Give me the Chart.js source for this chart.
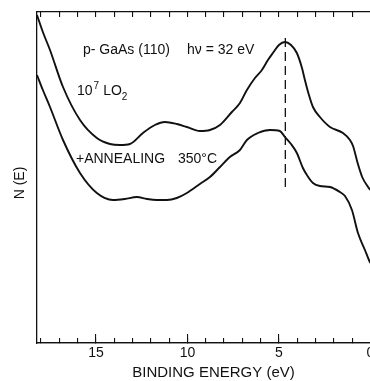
<!DOCTYPE html>
<html>
<head>
<meta charset="utf-8">
<script src="https://cdn.jsdelivr.net/npm/chart.js@4.4.1/dist/chart.umd.min.js"></script>
<style>
    html, body { margin: 0; padding: 0; background: #fff; overflow: hidden; }
</style>
</head>
<body>
<canvas id="espectro" width="390" height="381"></canvas>
<script>
// energias de ligadura (eV) y N(E) en unidades arbitrarias
const energiaOxidada = [18.22, 17.90, 17.51, 16.80, 15.87, 14.95, 14.23, 13.69, 13.14, 12.43, 11.78, 11.23, 10.58, 10.03, 9.32, 8.77, 8.22, 7.57, 7.13, 6.75, 6.31, 5.93, 5.60, 5.33, 5.00, 4.67, 4.34, 4.02, 3.74, 3.58, 3.36, 3.14, 2.76, 2.21, 1.50, 1.12, 0.95, 0.70, 0.45, 0.13, 0.0];
const nOxidada = [328, 311, 293, 256, 223, 205, 199, 198, 199, 210, 218, 221, 219, 216, 212, 213, 218, 231, 240, 253, 265, 273, 283, 290, 298, 301, 298, 290, 275, 263, 248, 236, 226, 216, 210, 203, 197, 180, 166, 156, 153];

const energiaRecocida = [18.22, 17.90, 17.51, 16.80, 15.87, 14.95, 14.07, 13.42, 12.76, 12.21, 11.67, 11.12, 10.58, 10.03, 9.32, 8.77, 8.22, 7.68, 7.13, 6.75, 6.15, 5.49, 4.95, 4.67, 4.34, 4.02, 3.69, 3.47, 3.14, 2.76, 2.21, 1.67, 1.39, 1.01, 0.68, 0.30, 0.08, 0.0];
const nRecocida = [268, 253, 236, 203, 170, 150, 143, 144, 146, 144, 143, 143, 145, 150, 159, 166, 176, 186, 193, 203, 210, 213, 212, 206, 199, 190, 175, 168, 160, 157, 156, 151, 147, 133, 110, 93, 83, 80];

// linea de trazos en el pico
const energiaPico = [4.65, 4.65];
const nPico = [156, 310];

const ticksMayores = [0, 5, 10, 15];
const ticksMenores = [0, 1, 2, 3, 4, 5, 6, 7, 8, 9, 10, 11, 12, 13, 14, 15, 16, 17, 18];
const rangoEnergia = [-1.07, 18.22];
const rangoN = [0, 331];

const fuente = '"Liberation Sans", Arial, sans-serif';
const negro = '#111';

const aPuntos = (xs, ys) => xs.map((x, i) => ({ x, y: ys[i] }));

const ejeX = (extra) => Object.assign({
    type: 'linear',
    reverse: true,
    min: rangoEnergia[0],
    max: rangoEnergia[1],
    ticks: { display: false },
    border: { display: true, color: negro, width: 1.3 },
    grid: { drawOnChartArea: false, drawTicks: true, tickLength: -5, color: negro, lineWidth: 1.1 }
}, extra);

const textos = {
    id: 'textos',
    afterDraw(chart) {
        const ctx = chart.ctx;
        ctx.save();
        ctx.fillStyle = negro;
        ctx.textBaseline = 'middle';
        ctx.textAlign = 'left';

        ctx.font = '14px ' + fuente;
        ctx.fillText('p- GaAs (110)', 83, 50);
        ctx.fillText('h\u03bd = 32 eV', 187, 50);

        // 10^7 L O2
        let x = 77;
        ctx.fillText('10', x, 91);
        x += ctx.measureText('10').width + 1;
        ctx.font = '10px ' + fuente;
        ctx.fillText('7', x, 86);
        x += ctx.measureText('7').width + 4;
        ctx.font = '14px ' + fuente;
        ctx.fillText('LO', x, 91);
        x += ctx.measureText('LO').width;
        ctx.font = '10px ' + fuente;
        ctx.fillText('2', x, 97);

        ctx.font = '14px ' + fuente;
        ctx.fillText('+ANNEALING', 76, 159);
        ctx.fillText('350\u00b0C', 178, 159);

        ctx.translate(20, 183);
        ctx.rotate(-Math.PI / 2);
        ctx.textAlign = 'center';
        ctx.fillText('N (E)', 0, 0);
        ctx.restore();
    }
};

const ctx = document.getElementById('espectro').getContext('2d');

new Chart(ctx, {
    type: 'line',
    data: {
        datasets: [
            { label: '10^7 L O2', data: aPuntos(energiaOxidada, nOxidada), borderColor: negro, borderWidth: 1.9, cubicInterpolationMode: 'monotone', pointRadius: 0, fill: false },
            { label: '+annealing 350C', data: aPuntos(energiaRecocida, nRecocida), borderColor: negro, borderWidth: 1.9, cubicInterpolationMode: 'monotone', pointRadius: 0, fill: false },
            { label: 'pico', data: aPuntos(energiaPico, nPico), borderColor: negro, borderWidth: 1.3, borderDash: [9, 5], pointRadius: 0, fill: false }
        ]
    },
    options: {
        responsive: false,
        animation: false,
        devicePixelRatio: 1,
        layout: { padding: { top: 12, left: 0, right: 0, bottom: 0 } },
        plugins: { legend: { display: false }, tooltip: { enabled: false } },
        scales: {
            xMenor: ejeX({
                position: 'bottom',
                weight: 0,
                afterBuildTicks: (s) => { s.ticks = ticksMenores.map((v) => ({ value: v })); },
                afterFit: (s) => { s.height = 0; }
            }),
            x: ejeX({
                position: 'bottom',
                weight: 1,
                afterBuildTicks: (s) => { s.ticks = ticksMayores.map((v) => ({ value: v })); },
                afterFit: (s) => { s.height = 38; },
                ticks: { display: true, color: negro, font: { family: fuente, size: 14 }, padding: 11, maxRotation: 0, autoSkip: false },
                grid: { drawOnChartArea: false, drawTicks: true, tickLength: -9, color: negro, lineWidth: 1.1 },
                title: { display: true, text: 'BINDING ENERGY (eV)', color: negro, font: { family: fuente, size: 15, lineHeight: 1 }, padding: { top: 0, bottom: 1 } }
            }),
            xSup: ejeX({
                position: 'top',
                afterBuildTicks: (s) => { s.ticks = ticksMenores.map((v) => ({ value: v })); },
                afterFit: (s) => { s.height = 0; }
            }),
            y: {
                type: 'linear',
                position: 'left',
                min: rangoN[0],
                max: rangoN[1],
                afterFit: (s) => { s.width = 37; },
                ticks: { display: false },
                grid: { display: true, drawOnChartArea: false, drawTicks: false },
                border: { display: true, color: negro, width: 1.3 }
            }
        }
    },
    plugins: [textos]
});
</script>
</body>
</html>
